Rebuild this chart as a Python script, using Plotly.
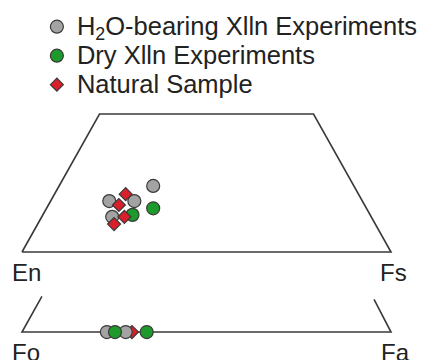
import numpy as np
import plotly.graph_objects as go

# Pyroxene compositions (mol %): Wo and Fs, En = 100 - Wo - Fs
px_h2o_wo = [15.5, 15.5, 20.1, 10.7]
px_h2o_fs = [15.9, 22.7, 25.5, 19.1]
px_dry_wo = [13.3, 11.3]
px_dry_fs = [28.9, 24.3]
px_nat_wo = [17.6, 14.3, 10.7, 8.5]
px_nat_fs = [19.3, 19.1, 22.4, 20.7]

# Olivine compositions (Fa mol %)
ol_h2o_fa = [23.0, 28.1]
ol_dry_fa = [25.2, 33.8]
ol_nat_fa = [29.8]

# Upper Wo limit of the pyroxene quadrilateral
WO_TOP = 42.0
# Vertical offset of the olivine join below the quadrilateral
OL_Y = -21.1
SQ3 = np.sqrt(3) / 2


def px_xy(wo, fs):
    wo = np.asarray(wo, float)
    fs = np.asarray(fs, float)
    return fs + wo / 2, wo * SQ3


GRAY = "#a3a3a3"
GREEN = "#1e9a2c"
RED = "#d81f2a"
EDGE = "#3a3a3a"
LINE = "#3a3a3a"
FONT = "Liberation Sans, Arial, sans-serif"

fig = go.Figure()

# Quadrilateral outline En-Fs-Hd-Di
qx, qy = px_xy([0, 0, WO_TOP, WO_TOP, 0], [0, 100, 100 - WO_TOP, 0, 0])
fig.add_trace(go.Scatter(x=qx, y=qy, mode="lines", line=dict(color=LINE, width=1.6),
                         showlegend=False, hoverinfo="skip"))

# Olivine join Fo-Fa with short side ticks
fig.add_trace(go.Scatter(x=[5.4, 0, 100, 95.4], y=[OL_Y + 9.4, OL_Y, OL_Y, OL_Y + 8.6],
                         mode="lines", line=dict(color=LINE, width=1.6),
                         showlegend=False, hoverinfo="skip"))

label_style = '<span style="font-size:25.5px">{}</span>'
series = [
    ("H<sub>2</sub>O-bearing Xlln Experiments", "h2o", px_h2o_wo, px_h2o_fs, GRAY, "circle", 13),
    ("Dry Xlln Experiments", "dry", px_dry_wo, px_dry_fs, GREEN, "circle", 13),
    ("Natural Sample", "nat", px_nat_wo, px_nat_fs, RED, "diamond", 10),
]
for name, grp, wo, fs, col, sym, sz in series:
    x, y = px_xy(wo, fs)
    fig.add_trace(go.Scatter(
        x=x, y=y, mode="markers", name=label_style.format(name), legendgroup=grp,
        marker=dict(color=col, symbol=sym, size=sz, line=dict(color=EDGE, width=1.2)),
    ))

# Olivine points
ol_series = [
    ("nat", ol_nat_fa, RED, "diamond", 10),
    ("h2o", ol_h2o_fa, GRAY, "circle", 13),
    ("dry", ol_dry_fa, GREEN, "circle", 13),
]
for grp, fa, col, sym, sz in ol_series:
    fig.add_trace(go.Scatter(
        x=fa, y=[OL_Y] * len(fa), mode="markers", legendgroup=grp, showlegend=False,
        marker=dict(color=col, symbol=sym, size=sz, line=dict(color=EDGE, width=1.2)),
    ))

# End-member labels
labels = [("En", 1.2, -5.3), ("Fs", 100.8, -5.3), ("Fo", 1.2, -26.5), ("Fa", 101.2, -26.5)]
for txt, x, y in labels:
    fig.add_annotation(x=x, y=y, text=txt, showarrow=False, xanchor="center", yanchor="middle",
                       font=dict(size=24, color="#222222", family=FONT))

fig.update_layout(
    width=424, height=360, margin=dict(l=0, r=0, t=0, b=0),
    paper_bgcolor="white", plot_bgcolor="white",
    font=dict(family=FONT, color="#222222"),
    xaxis=dict(range=[-5.96, 108.94], visible=False, fixedrange=True),
    yaxis=dict(range=[-28.47, 66.42], visible=False, fixedrange=True),
    legend=dict(x=0.087, y=0.98, xanchor="left", yanchor="top", bgcolor="rgba(0,0,0,0)",
                font=dict(size=20, family=FONT, color="#222222"), itemsizing="trace",
                tracegroupgap=0),
    showlegend=True,
)

fig.write_html("out.html")
